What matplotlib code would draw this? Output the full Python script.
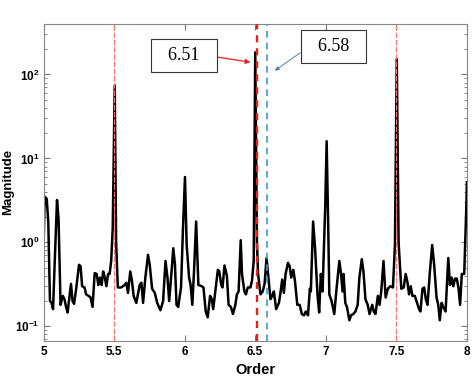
import matplotlib
matplotlib.use('Agg')
import matplotlib.pyplot as plt
import numpy as np

# spectrum (order, magnitude)
order = [5.000, 5.008, 5.022, 5.033, 5.045, 5.056, 5.067, 5.079, 5.095, 5.106,
         5.120, 5.136, 5.148, 5.159, 5.170, 5.194, 5.205, 5.216, 5.232, 5.251,
         5.262, 5.273, 5.290, 5.301, 5.319, 5.333, 5.347, 5.362, 5.376, 5.388,
         5.400, 5.411, 5.422, 5.434, 5.445, 5.457, 5.468, 5.479, 5.490, 5.504,
         5.514, 5.526, 5.550, 5.574, 5.586, 5.598, 5.614, 5.626, 5.638, 5.657,
         5.681, 5.693, 5.705, 5.721, 5.740, 5.752, 5.769, 5.788, 5.805, 5.828,
         5.847, 5.864, 5.878, 5.890, 5.907, 5.919, 5.931, 5.942, 5.954, 5.974,
         5.988, 6.002, 6.014, 6.031, 6.042, 6.054, 6.066, 6.081, 6.097, 6.121,
         6.133, 6.149, 6.163, 6.180, 6.192, 6.202, 6.220, 6.235, 6.245, 6.259,
         6.268, 6.282, 6.299, 6.311, 6.327, 6.342, 6.359, 6.370, 6.382, 6.397,
         6.406, 6.423, 6.434, 6.447, 6.466, 6.477, 6.489, 6.500, 6.512, 6.520,
         6.537, 6.553, 6.566, 6.580, 6.591, 6.608, 6.620, 6.632, 6.648, 6.668,
         6.680, 6.691, 6.703, 6.715, 6.732, 6.744, 6.755, 6.770, 6.782, 6.798,
         6.815, 6.830, 6.846, 6.858, 6.874, 6.887, 6.894, 6.910, 6.924, 6.941,
         6.953, 6.965, 6.977, 6.996, 7.006, 7.016, 7.025, 7.041, 7.060, 7.077,
         7.096, 7.108, 7.119, 7.126, 7.138, 7.150, 7.167, 7.179, 7.195, 7.210,
         7.226, 7.238, 7.255, 7.267, 7.281, 7.297, 7.310, 7.329, 7.340, 7.352,
         7.369, 7.381, 7.393, 7.409, 7.424, 7.440, 7.457, 7.476, 7.490, 7.503,
         7.516, 7.535, 7.552, 7.566, 7.578, 7.590, 7.602, 7.614, 7.631, 7.647,
         7.661, 7.671, 7.685, 7.697, 7.709, 7.721, 7.738, 7.754, 7.768, 7.785,
         7.797, 7.808, 7.821, 7.832, 7.849, 7.868, 7.880, 7.892, 7.904, 7.916,
         7.928, 7.940, 7.952, 7.964, 7.981, 7.995, 8.000]
magnitude = [0.95, 3.5, 3.3, 1.77, 0.20, 0.19, 0.16, 0.6, 3.2, 1.9,
             0.18, 0.23, 0.21, 0.17, 0.146, 0.32, 0.20, 0.185, 0.29, 0.54,
             0.52, 0.30, 0.29, 0.24, 0.23, 0.22, 0.17, 0.43, 0.42, 0.31,
             0.38, 0.31, 0.45, 0.38, 0.30, 0.42, 0.42, 0.6, 1.5, 74,
             1.0, 0.29, 0.29, 0.31, 0.33, 0.25, 0.45, 0.35, 0.23, 0.19,
             0.31, 0.33, 0.19, 0.38, 0.71, 0.54, 0.28, 0.25, 0.19, 0.155,
             0.2, 0.6, 0.38, 0.2, 0.45, 0.85, 0.54, 0.18, 0.17, 0.29,
             1.5, 6.0, 0.93, 0.38, 0.31, 0.18, 0.45, 1.77, 0.31, 0.30,
             0.29, 0.15, 0.128, 0.23, 0.21, 0.16, 0.29, 0.47, 0.45, 0.31,
             0.29, 0.53, 0.40, 0.18, 0.17, 0.14, 0.18, 0.24, 0.26, 1.06,
             0.42, 0.26, 0.24, 0.29, 0.29, 0.35, 0.6, 183, 1.0, 0.42,
             0.24, 0.26, 0.32, 0.65, 0.42, 0.21, 0.23, 0.26, 0.16, 0.19,
             0.26, 0.36, 0.25, 0.42, 0.57, 0.52, 0.38, 0.47, 0.34, 0.18,
             0.18, 0.14, 0.135, 0.15, 0.135, 0.28, 0.26, 1.77, 0.85, 0.24,
             0.146, 0.42, 0.26, 2.7, 16, 2.0, 0.24, 0.2, 0.14, 0.29,
             0.6, 0.42, 0.26, 0.42, 0.19, 0.17, 0.118, 0.135, 0.14, 0.15,
             0.18, 0.38, 0.63, 0.45, 0.21, 0.18, 0.14, 0.18, 0.15, 0.14,
             0.23, 0.18, 0.26, 0.6, 0.22, 0.28, 0.30, 0.29, 0.93, 153,
             1.0, 0.28, 0.29, 0.42, 0.34, 0.24, 0.30, 0.23, 0.23, 0.19,
             0.16, 0.15, 0.28, 0.29, 0.21, 0.18, 0.45, 0.93, 0.54, 0.22,
             0.18, 0.118, 0.19, 0.17, 0.15, 0.65, 0.31, 0.38, 0.30, 0.37,
             0.37, 0.29, 0.18, 0.42, 0.42, 2.3, 5.2]

harmonic_lines = [5.5, 7.5]
marked_orders = [6.51, 6.58]
marked_labels = ['6.51', '6.58']

fig = plt.figure(figsize=(4.74, 3.8), dpi=100)
ax = fig.add_axes([0.092, 0.103, 0.893, 0.834])

ax.plot(order, magnitude, color='black', linewidth=1.8, zorder=2)

for x in harmonic_lines:
    ax.axvline(x, color='#ff7070', linewidth=0.8, linestyle=(0, (5, 1.5)), zorder=3)
ax.axvline(marked_orders[0], color='#e8201c', linewidth=1.7, linestyle=(0, (3, 2.5)), zorder=3)
ax.axvline(marked_orders[1], color='#3a9ad9', linewidth=1.2, linestyle=(0, (4, 3)), zorder=3)

ax.set_yscale('log')
ax.set_xlim(5, 8)
ax.set_ylim(0.067, 400)
ax.set_xticks([5, 5.5, 6, 6.5, 7, 7.5, 8])
ax.set_xticklabels(['5', '5.5', '6', '6.5', '7', '7.5', '8'])

ax.tick_params(which='both', direction='in', top=True, right=True, color='#777777')
ax.tick_params(which='major', length=4, labelsize=8.5, pad=4)
ax.tick_params(axis='y', which='major', pad=3)
ax.tick_params(which='minor', length=2)
for lab in ax.get_xticklabels() + ax.get_yticklabels():
    lab.set_fontweight('bold')
    lab.set_family('Liberation Sans')
for s in ax.spines.values():
    s.set_color('#888888')
    s.set_linewidth(0.8)

ax.set_xlabel('Order', fontsize=10.5, fontweight='bold', family='Liberation Sans', labelpad=3)
ax.set_ylabel('Magnitude', fontsize=9.5, fontweight='bold', family='Liberation Sans', labelpad=1)

box = dict(boxstyle='square,pad=0.45', facecolor='white', edgecolor='#333333', linewidth=0.8)
ax.annotate('  ' + marked_labels[0] + '  ', xy=(6.466, 140), xytext=(5.994, 167),
            fontsize=13, family='Liberation Serif', ha='center', va='center', bbox=box,
            arrowprops=dict(arrowstyle='-|>', color='#e8201c', lw=0.9, mutation_scale=7,
                            shrinkA=0, shrinkB=0, relpos=(1, 0.5)))
ax.annotate('  ' + marked_labels[1] + '  ', xy=(6.639, 111), xytext=(7.053, 214),
            fontsize=13, family='Liberation Serif', ha='center', va='center', bbox=box,
            arrowprops=dict(arrowstyle='-|>', color='#4a7fc0', lw=0.7, mutation_scale=6,
                            shrinkA=0, shrinkB=0, relpos=(0, 0.5)))

fig.savefig('out.png', dpi=100)
